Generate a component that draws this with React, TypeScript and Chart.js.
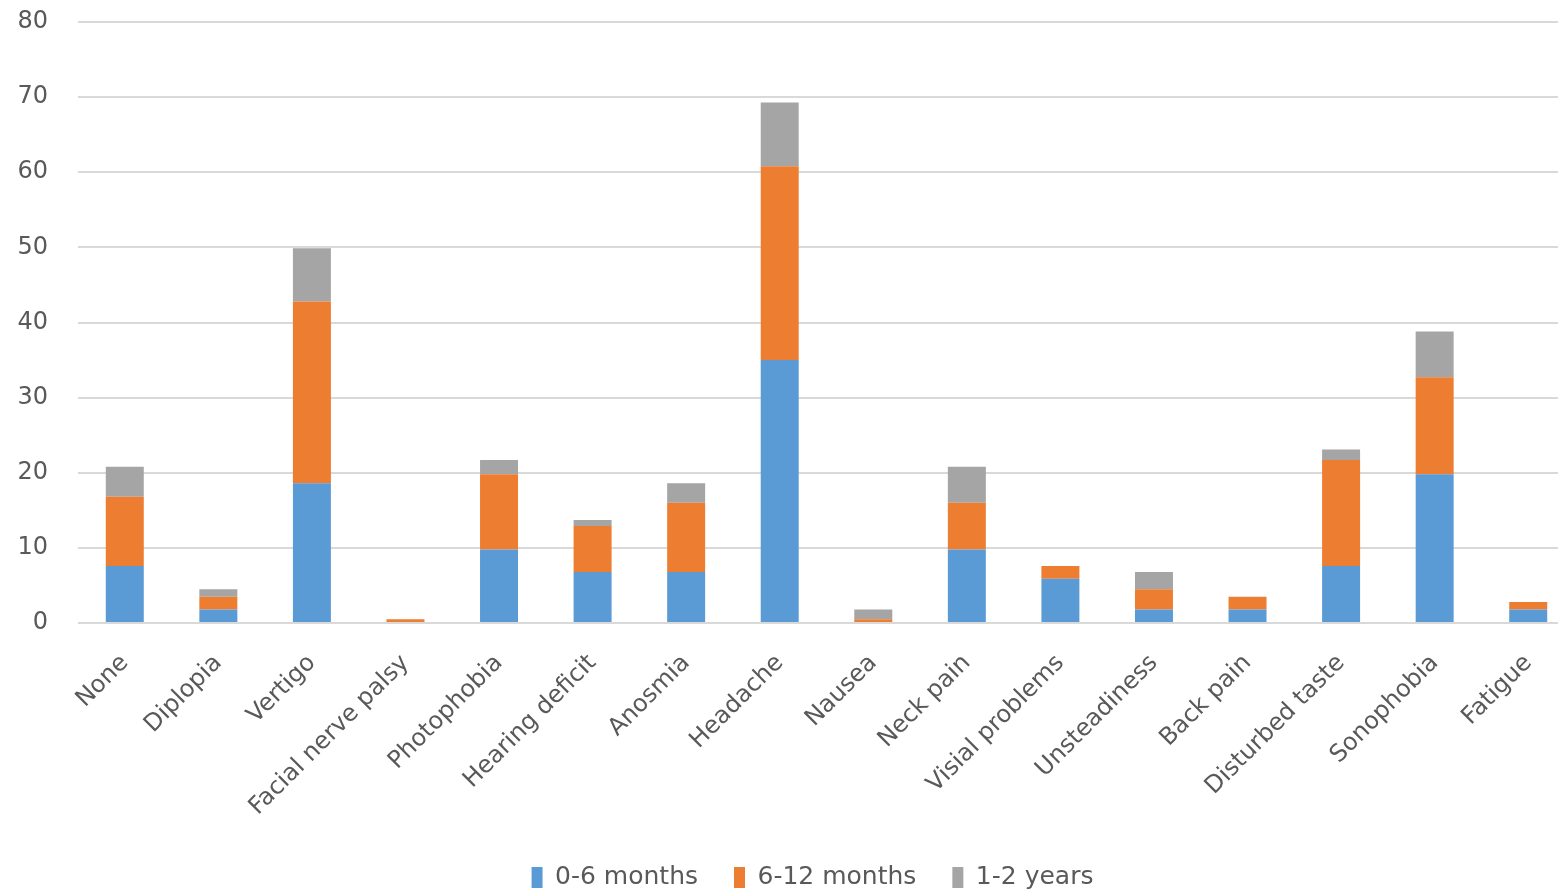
import React, { useEffect, useRef } from "react";
import { Chart, registerables } from "chart.js";

Chart.register(...registerables);

const categories = [
  "None", "Diplopia", "Vertigo", "Facial nerve palsy", "Photophobia",
  "Hearing deficit", "Anosmia", "Headache", "Nausea", "Neck pain",
  "Visial problems", "Unsteadiness", "Back pain", "Disturbed taste",
  "Sonophobia", "Fatigue",
];
const seriesNames = ["0-6 months", "6-12 months", "1-2 years"];
const months0to6 = [7.6, 1.8, 18.6, 0, 9.8, 6.8, 6.8, 35.0, 0, 9.8, 5.9, 1.8, 1.8, 7.6, 19.8, 1.8];
const months6to12 = [9.2, 1.7, 24.2, 0.5, 10.0, 6.1, 9.2, 25.8, 0.5, 6.2, 1.7, 2.7, 1.7, 14.1, 12.9, 1.0];
const years1to2 = [4.0, 1.0, 7.1, 0, 1.9, 0.8, 2.6, 8.5, 1.3, 4.8, 0, 2.3, 0, 1.4, 6.1, 0];
const colors = ["#5b9bd5", "#ed7d31", "#a5a5a5"];
const yTicksMax = 80;
const yTickStep = 10;

const legendShift = {
  id: "legendShift",
  afterLayout(chart: any) {
    if (chart.legend) {
      chart.legend.left += 16;
      chart.legend.right += 16;
    }
  },
};

export default function App() {
  const ref = useRef<HTMLCanvasElement | null>(null);
  useEffect(() => {
    if (!ref.current) return;
    const font = "'DejaVu Sans', sans-serif";
    const chart = new Chart(ref.current, {
      type: "bar",
      data: {
        labels: categories,
        datasets: [months0to6, months6to12, years1to2].map((d, i) => ({
          label: seriesNames[i],
          data: d,
          backgroundColor: colors[i],
          borderWidth: 0,
          categoryPercentage: 1,
          barPercentage: 0.406,
        })),
      },
      options: {
        animation: false,
        responsive: true,
        maintainAspectRatio: false,
        layout: { padding: { top: 22, right: 0, left: 18, bottom: -5 } },
        plugins: {
          legend: {
            position: "bottom",
            labels: {
              boxWidth: 11,
              boxHeight: 21,
              color: "#595959",
              font: { family: font, size: 25 },
              padding: 36,
            },
          },
          tooltip: { enabled: false },
        },
        scales: {
          x: {
            stacked: true,
            grid: { display: false },
            border: { display: false },
            ticks: {
              color: "#595959",
              font: { family: font, size: 24 },
              maxRotation: 45,
              minRotation: 45,
              padding: 18,
              autoSkip: false,
            },
            afterFit: (s: any) => {
              s.height = 206;
              s.paddingLeft = 0;
              s.paddingRight = 0;
            },
          },
          y: {
            stacked: true,
            min: 0,
            max: yTicksMax,
            grid: { color: "#d9d9d9", lineWidth: 2, drawTicks: false },
            border: { display: false },
            ticks: {
              stepSize: yTickStep,
              color: "#595959",
              font: { family: font, size: 24 },
              padding: 30,
            },
            afterFit: (s: any) => {
              s.width = 60;
              s.paddingTop = 0;
              s.paddingBottom = 0;
            },
          },
        },
      },
      plugins: [legendShift],
    });
    return () => chart.destroy();
  }, []);
  return (
    <div style={{ position: "fixed", left: 0, top: 0, width: 1558, height: 895, overflow: "hidden", background: "#fff" }}>
      <div style={{ position: "absolute", left: 0, top: 0, width: 1575, height: 895 }}>
        <canvas ref={ref} />
      </div>
    </div>
  );
}
